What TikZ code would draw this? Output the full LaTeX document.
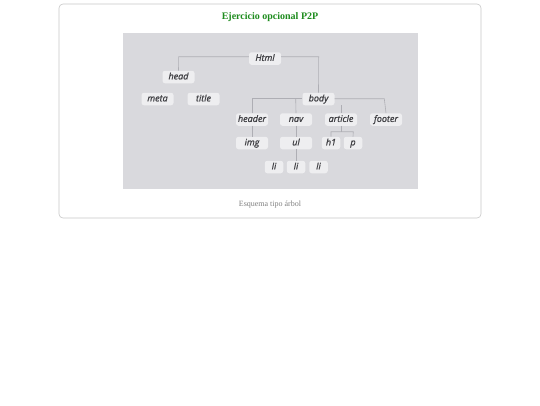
\documentclass[tikz,border=0pt]{standalone}
\usepackage{fontspec}
\setmainfont{Liberation Serif}
\newfontfamily\nodefont[FakeBold=1.2]{Open Sans}
\begin{document}
\begin{tikzpicture}[x=1pt,y=-1pt,
  tag/.style={rounded corners=2.5pt, fill=tagfill, minimum width=32pt, minimum height=12.5pt, inner sep=0pt,
    text height=6.6pt, text depth=1.8pt,
    font=\nodefont\itshape\fontsize{9}{10}\selectfont, text=tagtext},
  smalltag/.style={tag, minimum width=18.5pt},
  conn/.style={draw=linegray, line width=0.6pt}]
\definecolor{tagfill}{HTML}{EEEEF0}
\definecolor{tagtext}{HTML}{404044}
\definecolor{linegray}{HTML}{AEAEB4}
\definecolor{panel}{HTML}{D9D9DD}
\definecolor{titlegreen}{HTML}{1E8C1E}
\useasboundingbox (0,0) rectangle (540,405);
\fill[white] (0,0) rectangle (540,405);
\draw[draw=black!22, fill=white, rounded corners=4pt, line width=0.6pt] (59,4) rectangle (481,218);
\node[font=\bfseries\fontsize{10}{12}\selectfont, text=titlegreen] (title) at (270,17) {Ejercicio opcional P2P};
\node[font=\fontsize{8}{9}\selectfont, text=black!50] (caption) at (270,205) {Esquema tipo árbol};
\fill[panel] (123,32.5) rectangle (417.5,189);
\coordinate (hl) at (178.7,56.7);
\coordinate (hr) at (318.7,56.7);
\coordinate (bl) at (252,98.7);
\coordinate (br) at (384.3,98.7);
\coordinate (bn) at (295.7,98.7);
\coordinate (ba) at (341,98.7);
\coordinate (aj) at (341,131.7);
\coordinate (ajl) at (331,131.7);
\coordinate (ajr) at (353.3,131.7);
\node[tag] (html) at (265,58.5) {Html};
\node[tag] (head) at (178.5,77) {head};
\node[tag] (meta) at (157.5,99) {meta};
\node[tag] (ttl) at (203.5,99) {title};
\node[tag] (body) at (318.5,99) {body};
\node[tag] (header) at (252,119.5) {header};
\node[tag] (nav) at (296,119.5) {nav};
\node[tag] (article) at (341,119.5) {article};
\node[tag] (footer) at (386,119.5) {footer};
\node[tag] (img) at (252,143) {img};
\node[tag] (ul) at (296,143) {ul};
\node[smalltag] (h1) at (331,143) {h1};
\node[smalltag] (p) at (353,143) {p};
\node[smalltag] (li1) at (274,167) {li};
\node[smalltag] (li2) at (296,167) {li};
\node[smalltag] (li3) at (318.5,167) {li};
\path[conn] (html.west |- hl) -- (hl) -- (head.north);
\path[conn] (html.east |- hr) -- (hr) -- (body.north);
\path[conn] (bl) -- (body.west |- bl);
\path[conn] (body.east |- br) -- (br) -- (footer.north);
\path[conn] (bl) -- (header.north);
\path[conn] (bn) -- (nav.north);
\path[conn] (body.south -| ba) -- (article.north);
\path[conn] (header.south) -- (img.north);
\path[conn] (nav.south) -- (ul.north);
\path[conn] (ul.south) -- (li2.north);
\path[conn] (article.south) -- (aj);
\path[conn] (h1.north) -- (ajl) -- (ajr) -- (p.north);
\end{tikzpicture}
\end{document}
